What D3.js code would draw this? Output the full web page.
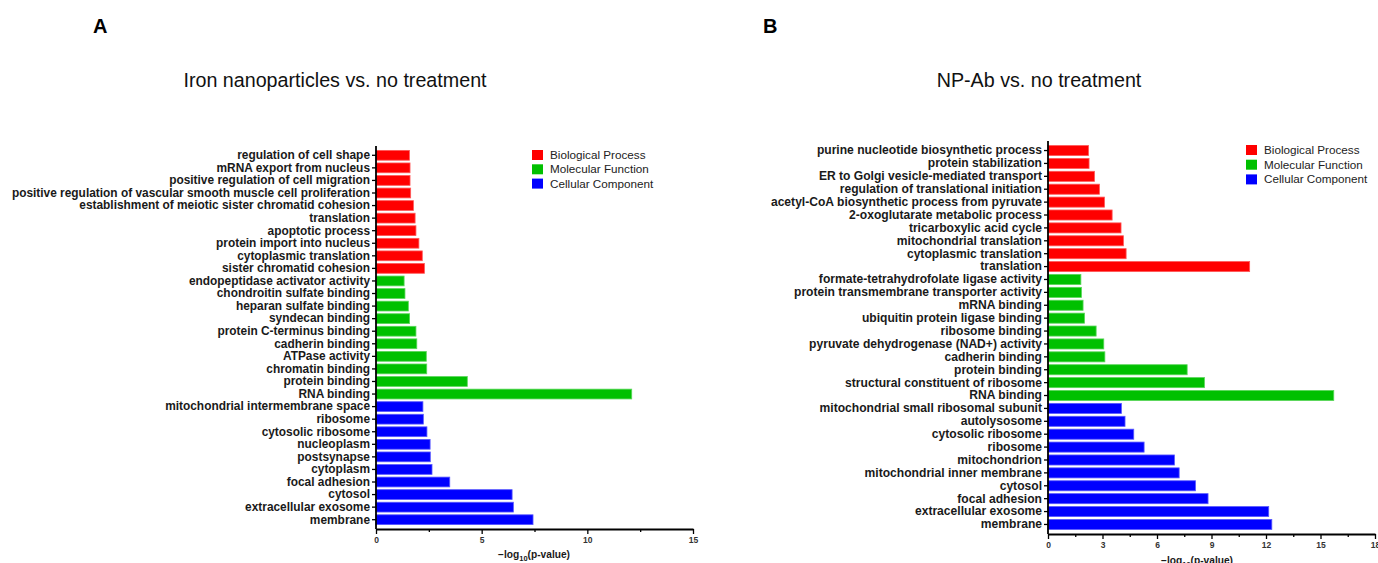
<!DOCTYPE html>
<html>
<head>
<meta charset="utf-8">
<script src="https://cdn.jsdelivr.net/npm/d3@7"></script>
<style>
  body { margin: 0; background: #fff; }
  svg { display: block; font-family: "Liberation Sans", Arial, sans-serif; }
</style>
</head>
<body>
<svg id="chart" width="1378" height="563"></svg>
<script>
// Panel A: Iron nanoparticles vs. no treatment (top to bottom)
var bpTermsA = ["regulation of cell shape", "mRNA export from nucleus", "positive regulation of cell migration",
  "positive regulation of vascular smooth muscle cell proliferation", "establishment of meiotic sister chromatid cohesion",
  "translation", "apoptotic process", "protein import into nucleus", "cytoplasmic translation", "sister chromatid cohesion"];
var bpValuesA = [1.58, 1.61, 1.61, 1.64, 1.77, 1.85, 1.89, 2.03, 2.19, 2.29];
var mfTermsA = ["endopeptidase activator activity", "chondroitin sulfate binding", "heparan sulfate binding",
  "syndecan binding", "protein C-terminus binding", "cadherin binding", "ATPase activity", "chromatin binding",
  "protein binding", "RNA binding"];
var mfValuesA = [1.33, 1.37, 1.53, 1.59, 1.89, 1.93, 2.38, 2.40, 4.32, 12.1];
var ccTermsA = ["mitochondrial intermembrane space", "ribosome", "cytosolic ribosome", "nucleoplasm", "postsynapse",
  "cytoplasm", "focal adhesion", "cytosol", "extracellular exosome", "membrane"];
var ccValuesA = [2.22, 2.24, 2.41, 2.56, 2.57, 2.65, 3.49, 6.44, 6.50, 7.43];
var ticksA = [0, 5, 10, 15];

// Panel B: NP-Ab vs. no treatment
var bpTermsB = ["purine nucleotide biosynthetic process", "protein stabilization", "ER to Golgi vesicle-mediated transport",
  "regulation of translational initiation", "acetyl-CoA biosynthetic process from pyruvate",
  "2-oxoglutarate metabolic process", "tricarboxylic acid cycle", "mitochondrial translation",
  "cytoplasmic translation", "translation"];
var bpValuesB = [2.23, 2.26, 2.56, 2.83, 3.11, 3.53, 4.02, 4.15, 4.30, 11.1];
var mfTermsB = ["formate-tetrahydrofolate ligase activity", "protein transmembrane transporter activity", "mRNA binding",
  "ubiquitin protein ligase binding", "ribosome binding", "pyruvate dehydrogenase (NAD+) activity", "cadherin binding",
  "protein binding", "structural constituent of ribosome", "RNA binding"];
var mfValuesB = [1.81, 1.84, 1.93, 2.01, 2.65, 3.07, 3.13, 7.66, 8.61, 15.73];
var ccTermsB = ["mitochondrial small ribosomal subunit", "autolysosome", "cytosolic ribosome", "ribosome",
  "mitochondrion", "mitochondrial inner membrane", "cytosol", "focal adhesion", "extracellular exosome", "membrane"];
var ccValuesB = [4.04, 4.24, 4.72, 5.29, 6.96, 7.22, 8.12, 8.81, 12.15, 12.32];
var ticksB = [0, 3, 6, 9, 12, 15, 18];

var groups = ["Biological Process", "Molecular Function", "Cellular Component"];
var colors = ["#ff0000", "#00c000", "#0000ff"];

var svg = d3.select("#chart");

function drawPanel(p) {
  // flatten the three groups into one list of rows
  var rows = [];
  p.sets.forEach(function(s, gi) {
    s.terms.forEach(function(t, i) {
      rows.push({ term: t, value: s.values[i], group: gi });
    });
  });

  var x = d3.scaleLinear().domain([0, p.max]).range([p.x0, p.x1]);
  var y = d3.scaleBand()
    .domain(rows.map(function(d) { return d.term + "|" + d.group; }))
    .range([p.y0, p.y1])
    .paddingInner(0.22)
    .paddingOuter(0.35);

  var g = svg.append("g");

  // panel letter and title
  svg.append("text").attr("x", p.letterX).attr("y", 33)
    .attr("font-size", 20).attr("font-weight", "bold").text(p.letter);
  svg.append("text").attr("x", p.titleX).attr("y", 87)
    .attr("text-anchor", "middle").attr("font-size", 19.7).attr("fill", "#111").text(p.title);

  g.selectAll("rect.bar")
    .data(rows)
    .enter()
    .append("rect")
    .attr("class", "bar")
    .attr("x", x(0))
    .attr("y", function(d) { return y(d.term + "|" + d.group); })
    .attr("width", function(d) { return x(d.value) - x(0); })
    .attr("height", y.bandwidth())
    .attr("fill", function(d) { return colors[d.group]; })
    .attr("stroke", function(d) { return d3.interpolateRgb(colors[d.group], "#fff")(0.35); })
    .attr("stroke-width", 0.8);

  // y axis
  var yAxis = d3.axisLeft(y).tickSize(4).tickPadding(2)
    .tickFormat(function(d) { return d.split("|")[0]; });
  var ya = g.append("g").attr("transform", "translate(" + x(0) + ",0)").call(yAxis);
  ya.select(".domain").attr("stroke-width", 1.8).attr("d", "M0," + p.y0 + "V" + p.y1);
  ya.selectAll(".tick line").attr("stroke-width", 1.3);
  ya.selectAll(".tick text")
    .attr("font-size", p.labelSize).attr("font-weight", "bold")
    .attr("font-family", "Liberation Sans, Arial, sans-serif").attr("fill", "#1a1a1a");

  // x axis: labelled major ticks plus minor ticks halfway
  var minor = [];
  for (var i = 0; i < p.ticks.length - 1; i++) minor.push((p.ticks[i] + p.ticks[i + 1]) / 2);
  var xMinor = d3.axisBottom(x).tickValues(minor).tickSize(3).tickFormat("");
  var xm = g.append("g").attr("transform", "translate(0," + p.y1 + ")").call(xMinor);
  xm.select(".domain").remove();
  xm.selectAll(".tick line").attr("stroke-width", 1.3);

  var xAxis = d3.axisBottom(x).tickValues(p.ticks).tickSize(5).tickPadding(3).tickSizeOuter(0);
  var xa = g.append("g").attr("transform", "translate(0," + p.y1 + ")").call(xAxis);
  xa.select(".domain").attr("stroke-width", 1.8);
  xa.selectAll(".tick line").attr("stroke-width", 1.3);
  xa.selectAll(".tick text")
    .attr("font-size", 8.5).attr("font-weight", "bold")
    .attr("font-family", "Liberation Sans, Arial, sans-serif").attr("fill", "#333");

  // axis title with subscript
  var t = svg.append("text")
    .attr("x", p.xLabelX).attr("y", p.xLabelY)
    .attr("text-anchor", "middle").attr("font-size", 10.2).attr("font-weight", "bold").attr("fill", "#1a1a1a");
  t.append("tspan").text("\u2212log");
  t.append("tspan").attr("font-size", 7.5).attr("dy", 3).text("10");
  t.append("tspan").attr("dy", -3).text("(p-value)");

  // legend
  var lg = svg.append("g").attr("transform", "translate(" + p.legendX + "," + p.legendY + ")");
  groups.forEach(function(name, i) {
    lg.append("rect").attr("x", 0).attr("y", i * p.legendStep - 5)
      .attr("width", 11).attr("height", 10).attr("fill", colors[i]);
    lg.append("text").attr("x", 18).attr("y", i * p.legendStep + 4)
      .attr("font-size", 11.7).attr("fill", "#222").text(name);
  });
}

drawPanel({
  sets: [{ terms: bpTermsA, values: bpValuesA }, { terms: mfTermsA, values: mfValuesA }, { terms: ccTermsA, values: ccValuesA }],
  max: 15, ticks: ticksA,
  x0: 376, x1: 693, y0: 146, y1: 529,
  labelSize: 11.9,
  letter: "A", letterX: 93, title: "Iron nanoparticles vs. no treatment", titleX: 335,
  xLabelX: 534, xLabelY: 558,
  legendX: 532, legendY: 155, legendStep: 14.3
});

drawPanel({
  sets: [{ terms: bpTermsB, values: bpValuesB }, { terms: mfTermsB, values: mfValuesB }, { terms: ccTermsB, values: ccValuesB }],
  max: 18, ticks: ticksB,
  x0: 1048, x1: 1375, y0: 141, y1: 534,
  labelSize: 12.1,
  letter: "B", letterX: 763, title: "NP-Ab vs. no treatment", titleX: 1039,
  xLabelX: 1197, xLabelY: 564,
  legendX: 1246, legendY: 150, legendStep: 14.7
});
</script>
</body>
</html>
